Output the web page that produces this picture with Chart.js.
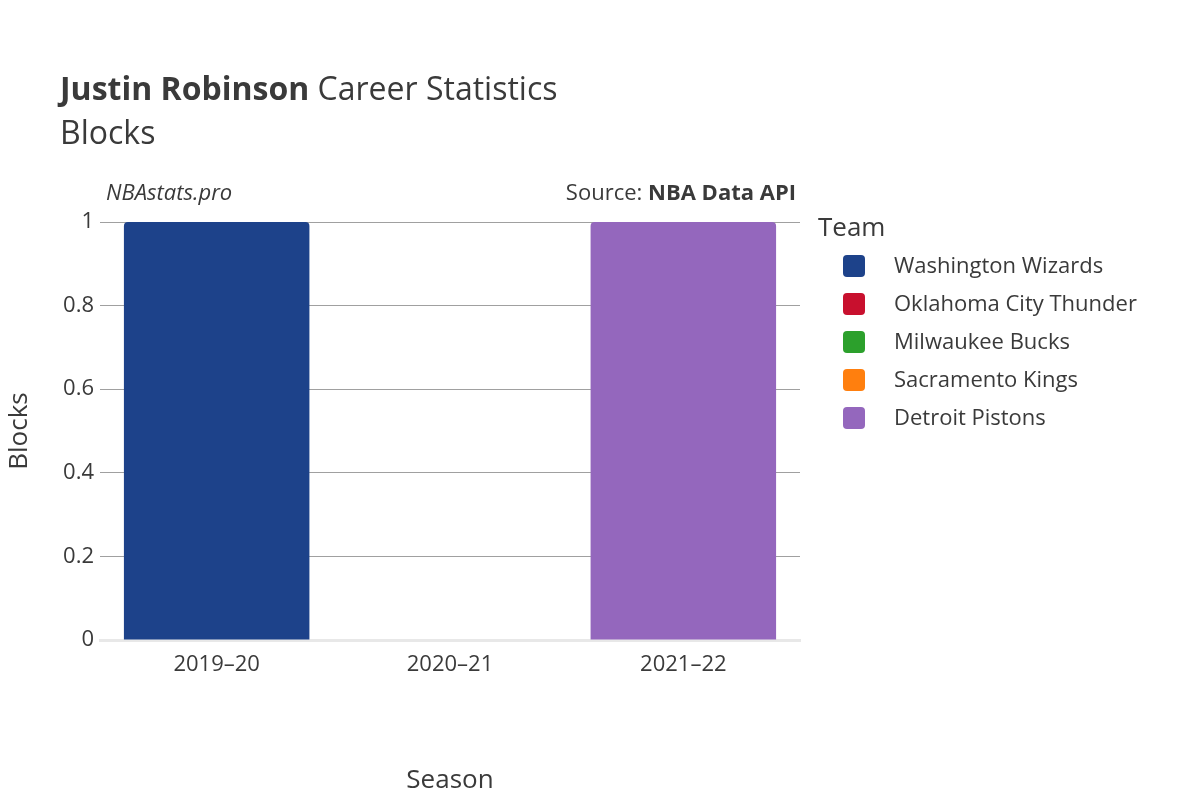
<!DOCTYPE html>
<html><head><meta charset="utf-8">
<script src="https://cdn.jsdelivr.net/npm/chart.js@4"></script>
<style>html,body{margin:0;padding:0;background:#fff}#w{width:1200px;height:800px}</style>
</head><body><div id="w"><canvas id="c" width="1200" height="800"></canvas></div>
<script>
const seasons = ["2019–20", "2020–21", "2021–22"];
const teams = ["Washington Wizards", "Oklahoma City Thunder", "Milwaukee Bucks", "Sacramento Kings", "Detroit Pistons"];
const colors = ["#1d428a", "#c8102e", "#2ca02c", "#ff7f0e", "#9467bd"];
const blocks = [
  [1, null, null],
  [null, 0, null],
  [null, 0, null],
  [null, 0, null],
  [null, null, 1]
];
const yTicks = [0, 0.2, 0.4, 0.6, 0.8, 1];
const F = "'Open Sans','Noto Sans',sans-serif";
const txt = {
  id: 'txt',
  afterDraw(ch) {
    const c = ch.ctx; c.save(); c.fillStyle = '#3a3a3a'; c.textBaseline = 'alphabetic';
    c.font = "bold 32px " + F; c.fillText("Justin Robinson", 60, 100);
    const w = c.measureText("Justin Robinson ").width;
    c.font = "32px " + F; c.fillText("Career Statistics", 60 + w, 100);
    c.fillText("Blocks", 60, 144);
    c.font = "italic 22px " + F; c.fillText("NBAstats.pro", 106, 200);
    c.textAlign = 'right'; c.font = "bold 22px " + F; c.fillText("NBA Data API", 796, 200);
    const bw = c.measureText("NBA Data API").width;
    c.font = "22px " + F; c.fillText("Source: ", 796 - bw, 200);
    c.textAlign = 'left'; c.font = "26px " + F; c.fillText("Team", 818, 236);
    c.font = "22px " + F;
    teams.forEach((t, i) => {
      const y = 266 + i * 38;
      c.fillStyle = colors[i];
      c.beginPath(); c.roundRect(843, y - 11, 22, 22, 4); c.fill();
      c.fillStyle = '#3a3a3a'; c.textBaseline = 'middle'; c.fillText(t, 894, y + 1);
    });
    c.restore();
  }
};
new Chart(document.getElementById('c'), {
  type: 'bar',
  data: {
    labels: seasons,
    datasets: teams.map((t, i) => ({
      label: t, data: blocks[i], backgroundColor: colors[i],
      borderRadius: 4, borderSkipped: 'bottom',
      barPercentage: 0.795, categoryPercentage: 1
    }))
  },
  options: {
    responsive: false, animation: false,
    layout: { padding: { left: 0, right: 400, top: 222, bottom: 0 } },
    plugins: { legend: { display: false }, tooltip: { enabled: false } },
    scales: {
      x: {
        stacked: true,
        grid: { display: false },
        border: { display: true, color: '#e8e8e8', width: 3 },
        ticks: { color: '#3a3a3a', font: { size: 22, family: F }, padding: 4 },
        title: { display: true, text: 'Season', color: '#3a3a3a', font: { size: 26, family: F }, padding: { top: 20 } },
        afterFit(s) { s.height = 160; }
      },
      y: {
        stacked: true, min: 0, max: 1,
        afterBuildTicks(s) { s.ticks = yTicks.map(v => ({ value: v })); },
        grid: { color: '#a0a0a0', drawTicks: false },
        border: { display: false },
        ticks: { color: '#3a3a3a', font: { size: 22, family: F }, padding: 6, callback: v => String(v) },
        title: { display: true, text: 'Blocks', color: '#3a3a3a', font: { size: 26, family: F }, padding: { bottom: 30 } },
        afterFit(s) { s.width = 100; }
      }
    }
  },
  plugins: [txt]
});
</script></body></html>
